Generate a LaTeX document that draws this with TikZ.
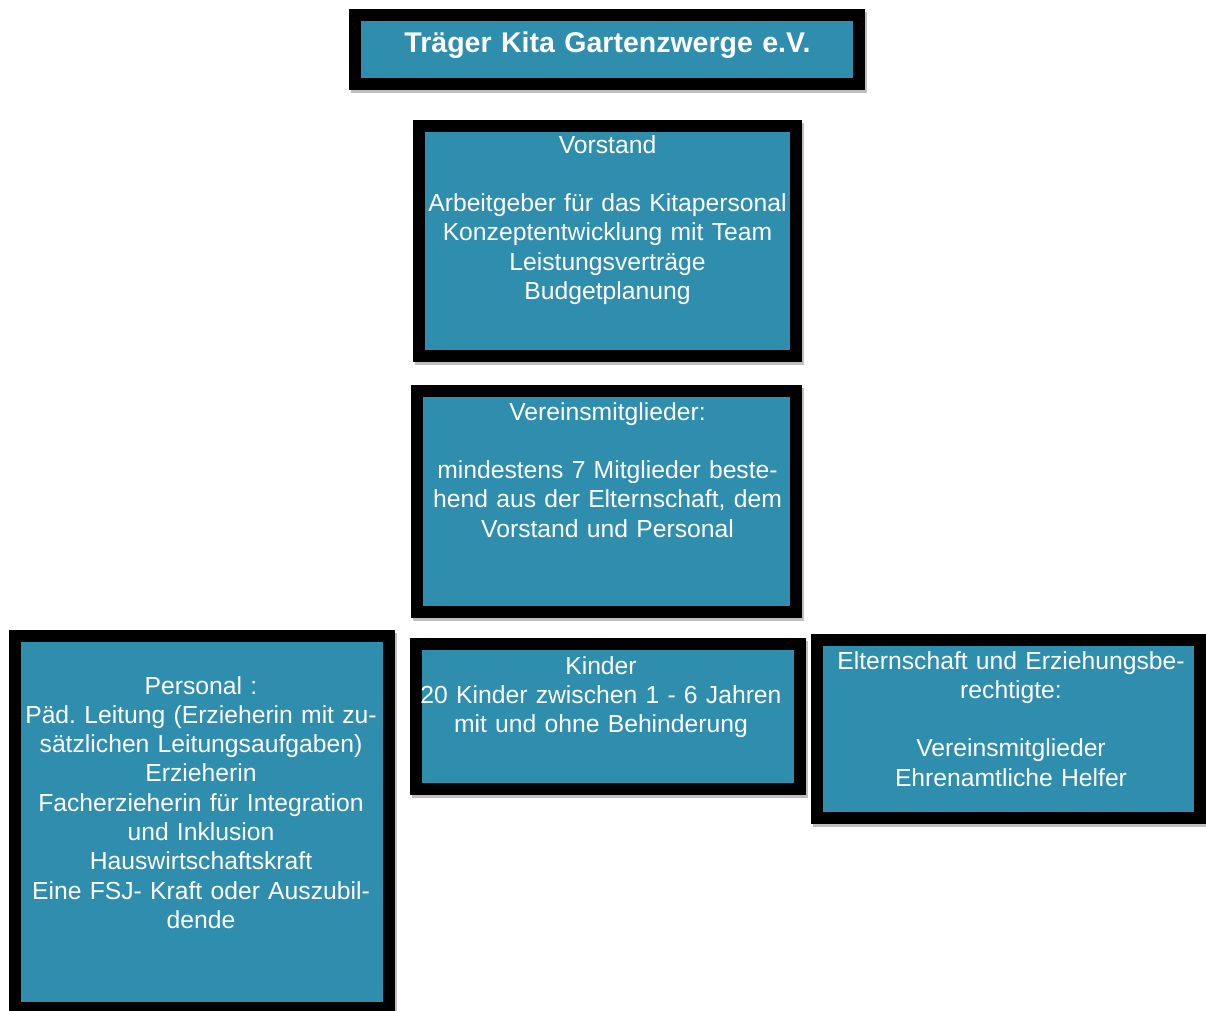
\documentclass[tikz,border=0pt]{standalone}
\usepackage{fontspec}
\setmainfont{Liberation Sans}
\usetikzlibrary{shadows}
\definecolor{kitablue}{RGB}{47,141,173}
\frenchspacing

\begin{document}
\begin{tikzpicture}
[x=1pt,y=-1pt,
 orgbox/.style={draw=black,line width=12pt,fill=kitablue,inner sep=0pt,
   drop shadow={shadow xshift=2pt,shadow yshift=-3pt,opacity=.25,draw=black,line width=12pt}},
 orgtext/.style={text=white,align=center,text width=390pt,inner sep=0pt,anchor=base,
   font=\fontsize{24.7}{29.3}\selectfont}]

\useasboundingbox (0,0) rectangle (1206,1010);
\clip (0,0) rectangle (1206,1010);

\node[orgbox,minimum width=504pt,minimum height=69pt] (traeger) at (607,49.5) {}; %title
\node[orgbox,minimum width=377pt,minimum height=230pt] (vorstand) at (607.5,241) {};
\node[orgbox,minimum width=379pt,minimum height=221pt] (verein) at (606.5,501.5) {};
\node[orgbox,minimum width=374pt,minimum height=372pt] (personal) at (202,822) {};
\node[orgbox,minimum width=384pt,minimum height=145pt] (kinder) at (608,716.5) {};
\node[orgbox,minimum width=383pt,minimum height=178pt] (eltern) at (1008.5,729) {};

\node[orgtext,text width=500pt,font=\fontsize{28.5}{32}\selectfont\bfseries] (traegertext) at (607.5,52) {Träger Kita Gartenzwerge e.V.};
\node[orgtext] (vorstandtext) at (607.5,153) {Vorstand\\[29.3pt]
  Arbeitgeber für das Kitapersonal\\ Konzeptentwicklung mit Team\\
  Leistungsverträge\\ Budgetplanung};
\node[orgtext] (vereintext) at (607.5,420) {Vereinsmitglieder:\\[29.3pt]
  mindestens 7 Mitglieder beste-\\ hend aus der Elternschaft, dem\\
  Vorstand und Personal};
\node[orgtext] (personaltext) at (201,694) {Personal :\\
  Päd. Leitung (Erzieherin mit zu-\\ sätzlichen Leitungsaufgaben)\\
  Erzieherin\\ Facherzieherin für Integration\\ und Inklusion\\
  Hauswirtschaftskraft\\ Eine FSJ- Kraft oder Auszubil-\\ dende};
\node[orgtext] (kindertext) at (601,674) {Kinder\\
  20 Kinder zwischen 1 - 6 Jahren\\ mit und ohne Behinderung};
\node[orgtext] (elterntext) at (1011,669) {Elternschaft und Erziehungsbe-\\ rechtigte:\\[29.3pt]
  Vereinsmitglieder\\ Ehrenamtliche Helfer};
\end{tikzpicture}
\end{document}
